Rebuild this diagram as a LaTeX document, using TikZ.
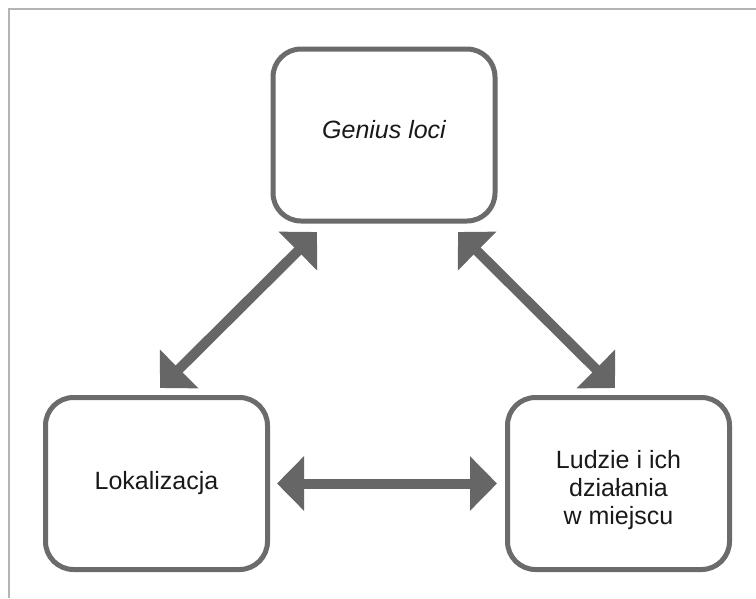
\documentclass[tikz,border=0pt]{standalone}
\usepackage{fontspec}
\setmainfont{Liberation Sans}
\usetikzlibrary{arrows.meta}
\definecolor{boxgray}{HTML}{6B6B6B}
\definecolor{arrgray}{HTML}{666666}
\definecolor{framegray}{HTML}{B4B4B4}
\begin{document}
\begin{tikzpicture}[x=1pt,y=-1pt,
  box/.style={draw=boxgray, line width=5pt, rounded corners=28pt, fill=white,
    minimum width=222pt, minimum height=172pt, inner sep=0pt},
  txt/.style={align=center, inner sep=0pt, text=black!90,
    font=\fontsize{25}{27.7}\selectfont},
  dbl/.style={draw=arrgray, fill=arrgray, line width=10pt,
    {Triangle[length=27pt,width=53pt]}-{Triangle[length=27pt,width=53pt]}},
  frame/.style={draw=framegray, line width=1.3pt}]
\useasboundingbox (0,0) rectangle (756,598);
\fill[white] (0,0) rectangle (756,598);
\draw[frame] (756,9) -- (9,9) -- (9,598);

\node[box] (G) at (384,135) {};
\node[box] (L) at (156.5,483.5) {};
\node[box] (R) at (618.5,483.5) {};
\node[txt] (Gt) at (384,130) {\itshape Genius loci};
\node[txt] (Lt) at (156.5,483.5) {Lokalizacja};
\node[txt] (Rt) at (618.5,490) {Ludzie i ich\\działania\\w miejscu};

\coordinate (gl) at (317,232);
\coordinate (lg) at (160,388);
\coordinate (gr) at (458,232);
\coordinate (rg) at (615,388);

\draw[dbl] (gl) -- (lg);
\draw[dbl] (gr) -- (rg);
\draw[dbl, shorten <=7pt, shorten >=8pt] (L.east) -- (R.west);
\end{tikzpicture}
\end{document}
